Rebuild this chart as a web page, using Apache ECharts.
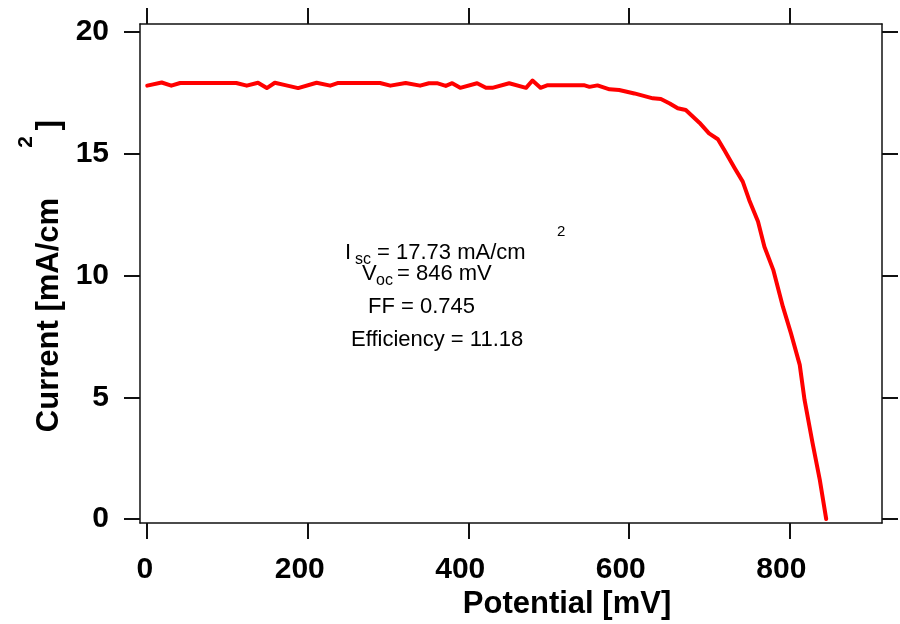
<!DOCTYPE html>
<html>
<head>
<meta charset="utf-8">
<script src="https://cdn.jsdelivr.net/npm/echarts@6/dist/echarts.min.js"></script>
<style>
html,body{margin:0;padding:0;background:#fff;}
#chart{width:900px;height:624px;}
</style>
</head>
<body>
<div id="chart"></div>
<script>
// Data
const potential = [0, 18, 30, 41, 60, 80, 100, 111, 124, 138, 149, 159, 172, 188, 211, 228, 238, 260, 290, 303, 322, 340, 351, 361, 372, 380, 390, 411, 422, 430, 451, 472, 480, 490, 499, 520, 544, 551, 561, 576, 588, 607, 630, 640, 651, 661, 671, 688, 700, 711, 719, 732, 742, 750, 761, 769, 780, 792, 802, 813, 819, 829, 838, 846];
const current = [17.79, 17.92, 17.79, 17.90, 17.90, 17.90, 17.90, 17.90, 17.79, 17.91, 17.69, 17.91, 17.81, 17.69, 17.91, 17.79, 17.90, 17.90, 17.90, 17.79, 17.90, 17.79, 17.89, 17.89, 17.78, 17.89, 17.70, 17.89, 17.70, 17.70, 17.89, 17.70, 18.00, 17.70, 17.81, 17.81, 17.81, 17.74, 17.80, 17.64, 17.61, 17.47, 17.27, 17.24, 17.06, 16.86, 16.79, 16.27, 15.83, 15.59, 15.15, 14.40, 13.85, 13.10, 12.21, 11.18, 10.23, 8.72, 7.63, 6.33, 4.89, 3.12, 1.61, 0.0];
const xTicks = [0, 200, 400, 600, 800];
const yTicks = [0, 5, 10, 15, 20];

const FONT = "'Liberation Sans', Arial, Helvetica, sans-serif";
const chart = echarts.init(document.getElementById('chart'), null, {renderer: 'canvas'});
const lineCol = '#111';

function mkX(pos, showLabel) {
  return {
    type: 'value', position: pos, min: -9, max: 915.5,
    splitLine: {show: false},
    axisLine: {show: true, onZero: false, lineStyle: {color: lineCol, width: 1.5}},
    axisTick: {show: true, inside: false, length: 16, customValues: xTicks, lineStyle: {color: lineCol, width: 2}},
    axisLabel: {
      show: showLabel, customValues: xTicks, margin: 32,
      fontFamily: FONT, fontSize: 30, fontWeight: 'bold', color: '#000',
      formatter: function (v) { return v === 0 ? '{z|0}' : '{t|' + v + '}'; },
      rich: {
        z: {fontFamily: FONT, fontSize: 30, fontWeight: 'bold', color: '#000', padding: [0, 5, 0, 0]},
        t: {fontFamily: FONT, fontSize: 30, fontWeight: 'bold', color: '#000', padding: [0, 16, 0, 0]}
      }
    }
  };
}
function mkY(pos, showLabel) {
  return {
    type: 'value', position: pos, min: -0.16, max: 20.32,
    splitLine: {show: false},
    axisLine: {show: true, onZero: false, lineStyle: {color: lineCol, width: 1.5}},
    axisTick: {show: true, inside: false, length: 16, customValues: yTicks, lineStyle: {color: lineCol, width: 2}},
    axisLabel: {
      show: showLabel, customValues: yTicks, margin: 31,
      fontFamily: FONT, fontSize: 30, fontWeight: 'bold', color: '#000'
    }
  };
}

const txt = (x, y, text, size, weight, rot) => ({
  type: 'text', x: x, y: y, rotation: rot || 0,
  style: {text: text, fontFamily: FONT, fontSize: size, fontWeight: weight || 'normal',
          fill: '#000', align: 'left', verticalAlign: 'middle'}
});
const ctxt = (x, y, text, size, weight, rot) => ({
  type: 'text', x: x, y: y, rotation: rot || 0,
  style: {text: text, fontFamily: FONT, fontSize: size, fontWeight: weight || 'normal',
          fill: '#000', align: 'center', verticalAlign: 'middle'}
});

chart.setOption({
  animation: false,
  backgroundColor: '#fff',
  grid: {left: 140, right: 18, top: 24, bottom: 101, containLabel: false},
  xAxis: [mkX('bottom', true), mkX('top', false)],
  yAxis: [mkY('left', true), mkY('right', false)],
  series: [{
    type: 'line', xAxisIndex: 0, yAxisIndex: 0,
    data: potential.map((p, i) => [p, current[i]]),
    showSymbol: false, symbol: 'none', smooth: false,
    lineStyle: {color: '#ff0000', width: 4, join: 'round', cap: 'round'}
  }],
  graphic: [
    ctxt(567, 604, 'Potential [mV]', 31, 'bold'),
    ctxt(49, 315, 'Current [mA/cm', 31, 'bold', Math.PI / 2),
    ctxt(26, 142, '2', 21, 'bold', Math.PI / 2),
    ctxt(49, 125, ']', 31, 'bold', Math.PI / 2),
    txt(345, 253, 'I', 22),
    txt(355, 260, 'sc', 16),
    txt(377, 253, '= 17.73 mA/cm', 22),
    txt(557, 232, '2', 15),
    txt(362, 274, 'V', 22),
    txt(376, 281, 'oc', 16),
    txt(397, 274, '= 846 mV', 22),
    txt(368, 307, 'FF = 0.745', 22),
    txt(351, 340, 'Efficiency = 11.18', 22)
  ]
});
</script>
</body>
</html>
